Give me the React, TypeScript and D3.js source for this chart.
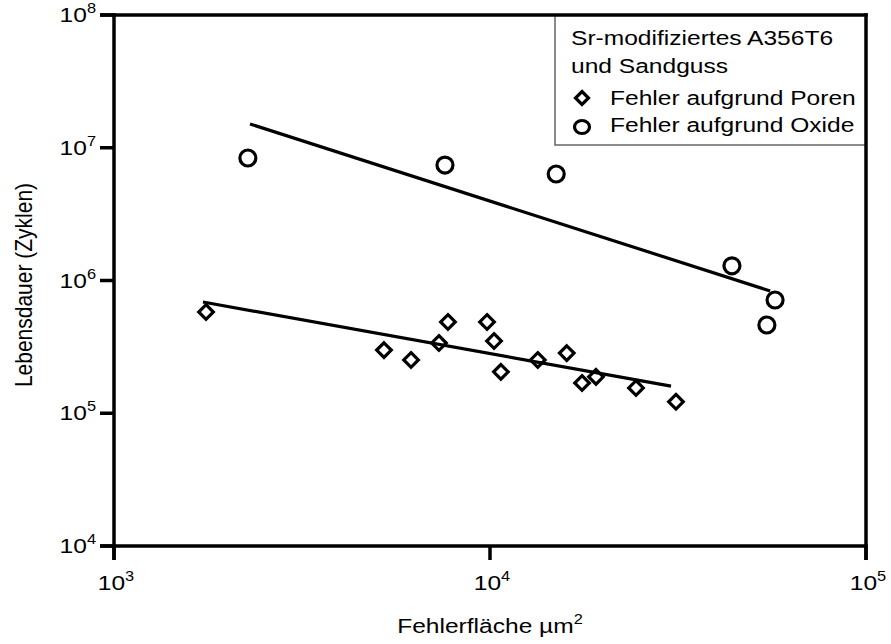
import React from "react";
import * as d3 from "d3";

const xTickExps = [3, 4, 5];
const yTickExps = [4, 5, 6, 7, 8];

// Oxide failures (circles)
const oxideX = [2270, 7590, 15000, 44000, 57300, 54500];
const oxideY = [8.37e6, 7.41e6, 6.34e6, 1.29e6, 7.13e5, 4.62e5];
const oxideFitX = [2300, 55600];
const oxideFitY = [1.51e7, 8.34e5];

// Pore failures (diamonds)
const poreX = [1757, 5224, 6166, 7316, 7730, 9820, 10250, 10690, 13400, 16000, 17570, 19140, 24450, 31230];
const poreY = [5.79e5, 2.99e5, 2.52e5, 3.38e5, 4.87e5, 4.87e5, 3.5e5, 2.05e5, 2.52e5, 2.84e5, 1.69e5, 1.88e5, 1.55e5, 1.22e5];
const poreFitX = [1724, 30300];
const poreFitY = [6.89e5, 1.6e5];

const legendTitle = ["Sr-modifiziertes A356T6", "und Sandguss"];
const legendEntries = ["Fehler aufgrund Poren", "Fehler aufgrund Oxide"];
const xTitle = "Fehlerfläche µm";
const yTitle = "Lebensdauer (Zyklen)";

const SX = 1.17;
const FONT = "'Liberation Sans', Arial, sans-serif";
const FS = 21;

function ST({ x, y, anchor = "start", children, rotate = 0, size = FS }: any) {
  return (
    <g transform={`translate(${x},${y}) scale(${SX},1)${rotate ? ` rotate(${rotate})` : ""}`}>
      <text x={0} y={0} textAnchor={anchor} fontFamily={FONT} fontSize={size} fill="#000">
        {children}
      </text>
    </g>
  );
}

function diamondPath(cx: number, cy: number, h: number) {
  return `M${cx},${cy - h}L${cx + h},${cy}L${cx},${cy + h}L${cx - h},${cy}Z`;
}

export default function App() {
  const L = 114, R = 866, T = 15, B = 546;
  const x = d3.scaleLog().domain([1e3, 1e5]).range([L, R]);
  const y = d3.scaleLog().domain([1e4, 1e8]).range([B, T]);
  const line = d3.line<[number, number]>().x((d) => x(d[0])).y((d) => y(d[1]));
  const oxFit: [number, number][] = oxideFitX.map((v, i) => [v, oxideFitY[i]]);
  const poFit: [number, number][] = poreFitX.map((v, i) => [v, poreFitY[i]]);
  const tickLen = 14;
  const sw = 3.5;

  return (
    <svg width={891} height={644} style={{ position: "absolute", left: 0, top: 0 }}>
      <rect width={891} height={644} fill="#fff" />
      {/* legend box */}
      <rect x={555} y={T} width={R - 555} height={145 - T} fill="#fff" stroke="#666" strokeWidth={1.5} />
      <ST x={571} y={45}>{legendTitle[0]}</ST>
      <ST x={571} y={73}>{legendTitle[1]}</ST>
      <path d={diamondPath(582, 98, 6.5)} fill="none" stroke="#000" strokeWidth={3.2} />
      <ST x={610} y={105}>{legendEntries[0]}</ST>
      <ellipse cx={582} cy={127} rx={7.5} ry={6.5} fill="none" stroke="#000" strokeWidth={3.2} />
      <ST x={610} y={132}>{legendEntries[1]}</ST>

      {/* axes frame */}
      <g stroke="#000" strokeWidth={sw} strokeLinecap="butt" fill="none">
        <line x1={L - tickLen} y1={T} x2={R + sw / 2} y2={T} />
        <line x1={L - tickLen} y1={B} x2={R + sw / 2} y2={B} />
        <line x1={L} y1={T - sw / 2} x2={L} y2={B + tickLen} />
        <line x1={R} y1={T - sw / 2} x2={R} y2={B + tickLen} />
        {yTickExps.map((e) => (
          <line key={"yt" + e} x1={L - tickLen} x2={L} y1={y(Math.pow(10, e))} y2={y(Math.pow(10, e))} />
        ))}
        {xTickExps.map((e) => (
          <line key={"xt" + e} x1={x(Math.pow(10, e))} x2={x(Math.pow(10, e))} y1={B} y2={B + tickLen} />
        ))}
      </g>

      {/* tick labels */}
      {yTickExps.map((e) => (
        <ST key={"yl" + e} x={96} y={y(Math.pow(10, e)) + 7} anchor="end">
          10<tspan fontSize={14} dy={-9}>{e}</tspan>
        </ST>
      ))}
      {xTickExps.map((e) => (
        <ST key={"xl" + e} x={x(Math.pow(10, e)) + 2} y={590} anchor="middle">
          10<tspan fontSize={14} dy={-9}>{e}</tspan>
        </ST>
      ))}

      {/* axis titles */}
      <ST x={490} y={633} anchor="middle">
        {xTitle}<tspan fontSize={14} dy={-9}>2</tspan>
      </ST>
      <ST x={32} y={285} anchor="middle" rotate={-90}>{yTitle}</ST>

      {/* fits */}
      <path d={line(oxFit) || ""} fill="none" stroke="#000" strokeWidth={3.2} />
      <path d={line(poFit) || ""} fill="none" stroke="#000" strokeWidth={3.2} />

      {/* points */}
      {oxideX.map((v, i) => (
        <circle key={"o" + i} cx={x(v)} cy={y(oxideY[i])} r={8} fill="none" stroke="#000" strokeWidth={3.2} />
      ))}
      {poreX.map((v, i) => (
        <path key={"p" + i} d={diamondPath(x(v), y(poreY[i]), 7.3)} fill="none" stroke="#000" strokeWidth={3.2} />
      ))}
    </svg>
  );
}
